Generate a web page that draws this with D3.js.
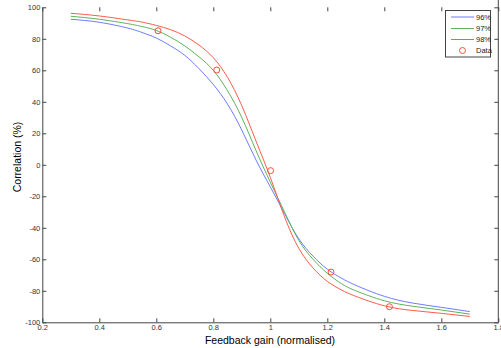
<!DOCTYPE html>
<html><head><meta charset="utf-8">
<script src="https://cdn.jsdelivr.net/npm/d3@7"></script>
<style>body{margin:0;background:#fff;}svg{display:block;font-family:Arial,"Liberation Sans",sans-serif;}</style>
</head><body>
<svg id="c" width="501" height="348"></svg>
<script>
const xs  = [0.3,0.4,0.5,0.55,0.6,0.65,0.7,0.75,0.8,0.85,0.9,0.95,1.0,1.05,1.1,1.15,1.2,1.25,1.3,1.4,1.5,1.6,1.7];
const s96 = [92.4,90.5,86.8,84,80.5,75.5,69.5,61,51,38.5,22,3,-14,-31,-47,-58,-66.3,-72,-76.5,-83.5,-87.8,-90.5,-93.2];
const s97 = [94.3,92.4,89.6,87.8,85.3,81,75.5,68.5,60,47,30,9,-11,-30,-48,-60,-68.9,-75.5,-80,-86.3,-89.8,-92.2,-94.8];
const s98 = [96.2,94.5,92,90.6,88.5,85.8,81.8,76,68,55.5,37.5,15,-8,-33,-53,-65.5,-74,-79.5,-83.5,-89.5,-92.5,-94.3,-96.3];
const dataX = [0.606,0.812,1.001,1.213,1.418];
const dataY = [85.1,60.2,-3.7,-68.1,-90.1];
const seriesNames = ["96%","97%","98%"];
const seriesColors = ["#6e7cff","#5cb35c","#ff5a4c"];
const xTicks = [0.2,0.4,0.6,0.8,1,1.2,1.4,1.6,1.8];
const xTickLabels = ["0.2","0.4","0.6","0.8","1","1.2","1.4","1.6","1.8"];
const yTicks = [-100,-80,-60,-40,-20,0,20,40,60,80,100];
const yTickLabels = ["-100","-80","-60","-40","-20","0","20","40","60","80","100"];

const svg = d3.select("#c");
const x = d3.scaleLinear().domain([0.2,1.8]).range([42.3,498.3]);
const y = d3.scaleLinear().domain([-100,100]).range([322.3,7.3]);
const axisCol = "#444";

const series = [s96,s97,s98];
const line = d3.line().x(d=>x(d[0])).y(d=>y(d[1])).curve(d3.curveNatural);
series.forEach((s,i)=>{
  svg.append("path").datum(xs.map((v,j)=>[v,s[j]]))
    .attr("d",line).attr("fill","none").attr("stroke",seriesColors[i]).attr("stroke-width",1);
});
svg.selectAll("circle.d").data(dataX.map((v,i)=>[v,dataY[i]])).enter().append("circle")
  .attr("cx",d=>x(d[0])).attr("cy",d=>y(d[1])).attr("r",3)
  .attr("fill","none").attr("stroke","#ff4a3a").attr("stroke-width",1);

const xAxis = d3.axisBottom(x).tickValues(xTicks).tickFormat((d,i)=>xTickLabels[i]).tickSizeInner(-4).tickSizeOuter(0).tickPadding(3);
const gx = svg.append("g").attr("transform","translate(0,322.3)").call(xAxis);
const yAxis = d3.axisLeft(y).tickValues(yTicks).tickFormat((d,i)=>yTickLabels[i]).tickSizeInner(-4).tickSizeOuter(0).tickPadding(2);
const gy = svg.append("g").attr("transform","translate(42.3,0)").call(yAxis);
const xTop = d3.axisTop(x).tickValues(xTicks).tickFormat("").tickSizeInner(-4).tickSizeOuter(0);
const gt = svg.append("g").attr("transform","translate(0,7.3)").call(xTop);
gt.select(".domain").remove();
const yRight = d3.axisRight(y).tickValues(yTicks).tickFormat("").tickSizeInner(-4).tickSizeOuter(0);
const gr = svg.append("g").attr("transform","translate(498.3,0)").call(yRight);
[gx,gy,gt,gr].forEach(g=>{
  g.selectAll(".domain").attr("stroke",axisCol);
  g.selectAll(".tick line").attr("stroke",axisCol);
  g.selectAll("text").attr("fill","#333").style("font-size","7.5px");
});
gr.select(".domain").attr("d","M0,0V322.3");
gx.selectAll("text").attr("dy","0.6em");
svg.append("rect").attr("x",0).attr("y",0).attr("width",40).attr("height",5).attr("fill","#fff");

svg.append("text").attr("x",270).attr("y",344).attr("text-anchor","middle")
  .style("font-size","10.5px").attr("fill","#000").text("Feedback gain (normalised)");
svg.append("text").attr("transform","translate(21,157) rotate(-90)").attr("text-anchor","middle")
  .style("font-size","10.5px").attr("fill","#000").text("Correlation (%)");

const lg = svg.append("g");
lg.append("rect").attr("x",445.5).attr("y",10.5).attr("width",45).attr("height",46.5)
  .attr("fill","#fff").attr("stroke",axisCol).attr("stroke-width",1);
const rowsY = [17,28.5,39.5,50.5];
seriesNames.forEach((n,i)=>{
  lg.append("line").attr("x1",451).attr("x2",474).attr("y1",rowsY[i]).attr("y2",rowsY[i])
    .attr("stroke",seriesColors[i]).attr("stroke-width",1);
  lg.append("text").attr("x",476).attr("y",rowsY[i]).attr("dy","0.35em").style("font-size","7.5px").attr("fill","#222").text(n);
});
lg.append("circle").attr("cx",462.5).attr("cy",rowsY[3]).attr("r",3).attr("fill","none").attr("stroke","#ff4a3a");
lg.append("text").attr("x",476).attr("y",rowsY[3]).attr("dy","0.35em").style("font-size","7.5px").attr("fill","#222").text("Data");
</script>
</body></html>
